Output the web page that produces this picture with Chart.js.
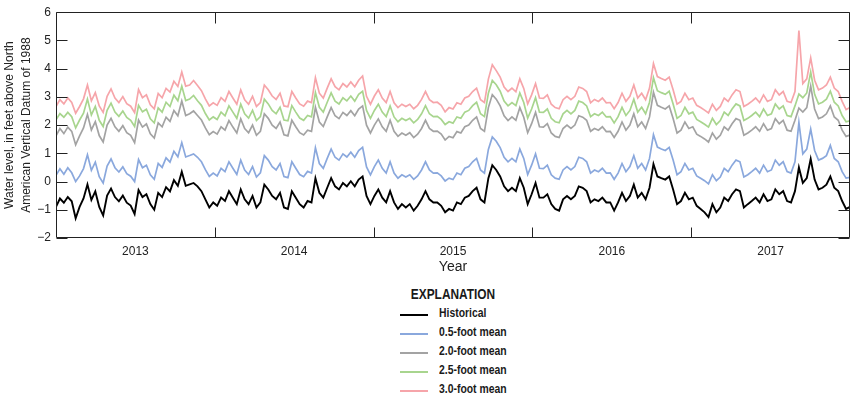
<!DOCTYPE html>
<html>
<head>
<meta charset="utf-8">
<script src="https://cdn.jsdelivr.net/npm/chart.js@4.4.1/dist/chart.umd.min.js"></script>
<style>
  html, body { margin: 0; padding: 0; background: #fff; }
  body { width: 851px; height: 397px; position: relative; overflow: hidden;
         font-family: 'Liberation Sans Narrow', 'Liberation Sans', Arial, sans-serif; }
  #wrap { position: absolute; left: 0; top: 0; width: 851px; height: 278px; }
  #legend { position: absolute; left: 0; top: 283px; width: 851px; color: #1a1a1a; }
  #legend .title { position: absolute; left: 383px; width: 140px; top: 3px; text-align: center;
                   font-weight: bold; font-size: 14.5px; transform: scaleX(0.82); transform-origin: 70px 0; }
  #legend .row { position: absolute; left: 400px; height: 14px; }
  #legend .row span.sw { position: absolute; left: 0; top: 7px; width: 28px; height: 0; border-top: 2px solid #000; }
  #legend .row span.tx { position: absolute; left: 39px; top: -2px; white-space: nowrap; font-weight: bold;
                         font-size: 13px; transform: scaleX(0.8); transform-origin: 0 0; }
</style>
</head>
<body>
<div id="wrap"><canvas id="c" width="851" height="278"></canvas></div>
<div id="legend"></div>
<script>
// ---- Data (water level, ft NAVD 88), roughly every 9 days, Jan 2013 - Dec 2017 ----
const yearLabels = ['2013', '2014', '2015', '2016', '2017'];
const seriesNames = ['Historical', '0.5-foot mean', '2.0-foot mean', '2.5-foot mean', '3.0-foot mean'];

const historical = [
-0.90,-0.60,-0.75,-0.55,-0.70,-1.30,-0.90,-0.60,-0.10,-0.65,-0.35,-0.90,-1.20,-0.50,-0.25,-0.55,-0.70,-0.50,-0.75,-0.85,
-1.15,-0.30,-0.55,-0.45,-0.80,-1.00,-0.40,-0.55,-0.20,-0.35,0.05,-0.15,0.35,-0.15,-0.10,-0.05,-0.17,-0.34,-0.63,-0.92,
-0.74,-0.86,-0.57,-0.69,-0.34,-0.57,-0.80,-0.28,-0.63,-0.80,-0.51,-0.92,-0.74,-0.11,-0.28,-0.51,-0.63,-0.40,-0.92,-0.97,
-0.34,-0.57,-0.80,-0.92,-0.69,-0.74,0.12,-0.40,-0.57,-0.22,0.12,-0.17,-0.28,-0.05,-0.17,0.01,-0.17,0.07,0.18,-0.51,
-0.80,-0.51,-0.28,-0.57,-0.74,-0.34,-0.74,-0.97,-0.80,-0.92,-0.80,-1.03,-0.86,-0.63,-0.34,-0.63,-0.74,-0.74,-0.86,-1.09,
-0.97,-1.03,-0.74,-0.80,-0.57,-0.51,-0.34,-0.22,-0.63,-0.74,0.12,0.58,0.41,0.18,-0.17,-0.34,-0.22,-0.34,0.12,-0.22,
-0.80,-0.45,-0.05,-0.57,-0.57,-0.45,-0.80,-0.97,-1.03,-0.63,-0.51,-0.63,-0.51,-0.17,-0.22,-0.34,-0.74,-0.63,-0.69,-0.57,
-0.74,-0.74,-1.03,-0.74,-0.40,-0.69,-0.51,-0.11,-0.57,-0.40,-0.63,-0.22,0.62,0.18,0.12,0.07,0.18,-0.28,-0.80,-0.69,
-0.40,-0.63,-0.57,-0.86,-0.97,-1.09,-1.26,-0.80,-1.09,-0.92,-0.57,-0.69,-0.45,-0.28,-0.34,-0.92,-0.80,-0.69,-0.57,-0.74,
-0.45,-0.69,-0.63,-0.28,-0.45,-0.34,-0.69,-0.74,-0.34,0.50,-0.05,0.12,0.80,0.07,-0.28,-0.22,-0.11,0.18,-0.22,-0.34,
-0.69,-0.97,-0.90
];

const mean05 = [
0.22,0.45,0.26,0.49,0.31,0.00,0.20,0.46,0.95,0.40,0.69,0.17,-0.05,0.55,0.80,0.49,0.34,0.52,0.28,0.19,
0.00,0.78,0.49,0.58,0.24,0.08,0.64,0.50,0.84,0.69,1.07,0.88,1.38,0.87,0.92,0.98,0.86,0.70,0.42,0.18,
0.30,0.20,0.47,0.35,0.70,0.47,0.25,0.76,0.41,0.25,0.53,0.16,0.31,0.92,0.76,0.53,0.41,0.64,0.18,0.14,
0.70,0.47,0.25,0.17,0.36,0.30,1.20,0.64,0.47,0.82,1.15,0.86,0.76,0.98,0.87,1.04,0.86,1.10,1.21,0.52,
0.24,0.53,0.76,0.47,0.30,0.70,0.30,0.12,0.24,0.16,0.24,0.08,0.20,0.41,0.70,0.41,0.30,0.31,0.20,0.02,
0.12,0.07,0.30,0.24,0.47,0.53,0.70,0.82,0.41,0.30,1.14,1.58,1.43,1.20,0.86,0.70,0.82,0.70,1.15,0.82,
0.25,0.58,0.98,0.47,0.46,0.58,0.24,0.12,0.08,0.41,0.53,0.41,0.53,0.86,0.82,0.70,0.30,0.41,0.35,0.47,
0.30,0.31,0.08,0.30,0.64,0.35,0.53,0.92,0.47,0.64,0.41,0.82,1.66,1.22,1.15,1.10,1.21,0.76,0.24,0.35,
0.64,0.41,0.47,0.20,0.12,0.03,-0.08,0.24,0.03,0.16,0.47,0.35,0.58,0.76,0.70,0.16,0.24,0.35,0.47,0.30,
0.58,0.35,0.41,0.76,0.58,0.70,0.35,0.30,0.70,2.10,0.98,1.15,1.86,1.10,0.76,0.82,0.92,1.28,0.82,0.70,
0.35,0.12,0.15
];

const mean20 = [
1.62,1.88,1.70,1.93,1.78,1.30,1.62,1.90,2.38,1.83,2.12,1.63,1.40,2.00,2.24,1.94,1.78,1.98,1.73,1.64,
1.38,2.18,1.93,2.04,1.69,1.54,2.08,1.94,2.28,2.13,2.52,2.33,2.85,2.34,2.40,2.50,2.34,2.18,1.90,1.66,
1.77,1.68,1.94,1.82,2.16,1.93,1.72,2.22,1.88,1.73,2.00,1.64,1.78,2.40,2.24,2.00,1.88,2.11,1.66,1.62,
2.17,1.94,1.73,1.65,1.82,1.78,2.63,2.11,1.95,2.29,2.62,2.33,2.23,2.45,2.34,2.51,2.33,2.57,2.68,2.00,
1.72,2.00,2.22,1.94,1.78,2.17,1.78,1.60,1.72,1.64,1.73,1.56,1.68,1.88,2.17,1.88,1.78,1.79,1.68,1.47,
1.60,1.55,1.77,1.72,1.94,2.00,2.17,2.29,1.88,1.78,2.62,3.08,2.92,2.68,2.33,2.16,2.29,2.17,2.62,2.28,
1.73,2.05,2.45,1.94,1.93,2.05,1.72,1.60,1.56,1.88,2.00,1.88,2.00,2.33,2.28,2.17,1.78,1.88,1.82,1.94,
1.77,1.78,1.56,1.78,2.11,1.82,2.00,2.40,1.94,2.11,1.88,2.29,3.16,2.70,2.63,2.57,2.68,2.23,1.72,1.82,
2.11,1.88,1.94,1.68,1.60,1.51,1.40,1.72,1.50,1.64,1.94,1.82,2.05,2.23,2.17,1.64,1.72,1.82,1.94,1.78,
2.05,1.82,1.88,2.23,2.05,2.17,1.82,1.78,2.17,2.60,2.46,2.62,3.38,2.57,2.23,2.29,2.40,2.68,2.29,2.17,
1.82,1.60,1.65
];

const mean25 = [
2.19,2.41,2.28,2.45,2.30,1.90,2.18,2.42,2.92,2.36,2.66,2.17,1.95,2.52,2.78,2.46,2.31,2.50,2.27,2.17,
1.95,2.70,2.47,2.56,2.22,2.08,2.61,2.46,2.81,2.66,3.06,2.86,3.38,2.87,2.92,3.05,2.86,2.70,2.41,2.18,
2.29,2.20,2.46,2.33,2.68,2.46,2.24,2.74,2.40,2.25,2.52,2.16,2.30,2.92,2.75,2.52,2.40,2.63,2.18,2.15,
2.69,2.46,2.25,2.17,2.34,2.29,3.15,2.63,2.46,2.81,3.14,2.85,2.75,2.97,2.86,3.03,2.85,3.09,3.20,2.52,
2.24,2.52,2.74,2.46,2.30,2.68,2.29,2.12,2.24,2.16,2.24,2.08,2.20,2.40,2.69,2.40,2.30,2.31,2.20,2.02,
2.12,2.07,2.29,2.24,2.46,2.52,2.69,2.81,2.40,2.30,3.13,3.58,3.43,3.20,2.85,2.68,2.80,2.69,3.14,2.80,
2.25,2.57,2.97,2.46,2.45,2.57,2.24,2.12,2.08,2.40,2.52,2.40,2.52,2.85,2.80,2.68,2.30,2.40,2.34,2.46,
2.29,2.30,2.08,2.30,2.63,2.34,2.52,2.92,2.46,2.63,2.40,2.81,3.68,3.22,3.15,3.09,3.20,2.75,2.24,2.34,
2.63,2.40,2.46,2.20,2.12,2.03,1.93,2.24,2.02,2.16,2.46,2.34,2.57,2.75,2.68,2.16,2.24,2.34,2.46,2.30,
2.57,2.34,2.40,2.75,2.57,2.68,2.34,2.30,2.68,3.10,2.97,3.14,3.88,3.09,2.75,2.81,2.92,3.20,2.81,2.68,
2.34,2.12,2.15
];

const mean30 = [
2.66,2.90,2.75,2.96,2.80,2.42,2.66,2.93,3.42,2.86,3.15,2.68,2.45,3.02,3.28,2.96,2.80,3.01,2.76,2.67,
2.44,3.26,2.97,3.07,2.72,2.58,3.12,2.97,3.30,3.17,3.55,3.37,3.88,3.38,3.42,3.58,3.40,3.22,2.93,2.68,
2.79,2.70,2.97,2.84,3.19,2.96,2.74,3.25,2.90,2.74,3.02,2.66,2.80,3.42,3.25,3.03,2.91,3.13,2.68,2.65,
3.19,2.96,2.75,2.67,2.85,2.80,3.68,3.13,2.96,3.31,3.64,3.36,3.25,3.47,3.35,3.53,3.36,3.59,3.74,3.02,
2.74,3.03,3.25,2.96,2.80,3.19,2.79,2.62,2.74,2.66,2.74,2.58,2.70,2.91,3.19,2.90,2.80,2.81,2.70,2.47,
2.62,2.57,2.79,2.74,2.96,3.02,3.19,3.31,2.90,2.80,3.63,4.14,3.93,3.70,3.35,3.19,3.31,3.18,3.64,3.30,
2.75,3.07,3.47,2.96,2.95,3.07,2.74,2.62,2.58,2.90,3.02,2.90,3.02,3.35,3.30,3.19,2.79,2.91,2.84,2.96,
2.79,2.80,2.58,2.80,3.13,2.84,3.02,3.42,2.96,3.13,2.90,3.31,4.18,3.72,3.65,3.59,3.70,3.25,2.74,2.84,
3.13,2.90,2.96,2.70,2.62,2.53,2.43,2.74,2.52,2.66,2.96,2.84,3.07,3.25,3.19,2.66,2.74,2.84,2.96,2.80,
3.07,2.84,2.90,3.25,3.07,3.19,2.84,2.80,3.19,5.35,3.47,3.64,4.38,3.59,3.25,3.31,3.42,3.70,3.31,3.19,
2.84,2.55,2.62
];

const seriesColors = ['#000000', '#8aa8dd', '#a3a3a3', '#a8d58e', '#f6a5aa'];
const seriesWidths = [1.9, 1.7, 1.7, 1.7, 1.7];
const allSeries = [historical, mean05, mean20, mean25, mean30];

// time axis: decimal years
const xStart = 2013, xEnd = 2018;
const toPoints = arr => arr.map((v, i) => ({ x: xStart + i * (xEnd - xStart) / (arr.length - 1), y: v }));

const FONT = "'Liberation Sans Narrow', 'Liberation Sans', Arial, sans-serif";
const INK = '#222';

const frameTicks = {
  id: 'frameTicks',
  afterDatasetsDraw(chart) {
    const { ctx, chartArea: a, scales: { x, y } } = chart;
    ctx.save();
    ctx.strokeStyle = INK;
    ctx.lineWidth = 1;
    const L = Math.round(a.left) + 0.5, R = Math.round(a.right) - 0.5;
    const T = Math.round(a.top) + 0.5, B = Math.round(a.bottom) - 0.5;
    ctx.beginPath();
    ctx.rect(L, T, R - L, B - T);
    for (let v = y.min; v <= y.max; v += 1) {
      const py = Math.round(y.getPixelForValue(v)) + 0.5;
      ctx.moveTo(L, py); ctx.lineTo(L + 11, py);
      ctx.moveTo(R, py); ctx.lineTo(R - 11, py);
    }
    for (let k = 1; k < yearLabels.length; k++) {
      const px = Math.round(x.getPixelForValue(xStart + k)) + 0.5;
      ctx.moveTo(px, T); ctx.lineTo(px, T + 11);
      ctx.moveTo(px, B); ctx.lineTo(px, B - 10);
    }
    ctx.stroke();
    ctx.restore();
  }
};

new Chart(document.getElementById('c'), {
  type: 'line',
  data: {
    datasets: allSeries.map((arr, k) => ({
      label: seriesNames[k],
      data: toPoints(arr),
      borderColor: seriesColors[k],
      backgroundColor: seriesColors[k],
      borderWidth: seriesWidths[k],
      pointRadius: 0,
      tension: 0,
      fill: false,
      order: k
    }))
  },
  options: {
    responsive: false,
    animation: false,
    devicePixelRatio: 1,
    layout: { padding: { top: 7, right: 1, left: 0, bottom: 0 } },
    plugins: { legend: { display: false }, tooltip: { enabled: false } },
    scales: {
      x: {
        type: 'linear',
        min: xStart, max: xEnd,
        afterBuildTicks(scale) {
          scale.ticks = yearLabels.map((lab, k) => ({ value: xStart + k + 0.5 }));
        },
        afterFit(scale) { scale.height = 40; },
        grid: { display: false, drawTicks: false },
        border: { display: false },
        ticks: {
          autoSkip: false, maxRotation: 0, padding: 6,
          color: INK, font: { family: FONT, size: 12 },
          callback: (v) => yearLabels[Math.floor(v - xStart)]
        },
        title: {
          display: true, text: 'Year', color: INK,
          font: { family: FONT, size: 14 }, padding: { top: 0, bottom: 2 }
        }
      },
      y: {
        min: -2, max: 6,
        afterFit(scale) { scale.width = 56; },
        grid: { display: false, drawTicks: false },
        border: { display: false },
        ticks: {
          stepSize: 1, padding: 5, color: INK,
          font: { family: FONT, size: 12 },
          callback: (v) => (v < 0 ? '\u2212' + Math.abs(v) : String(v))
        },
        title: {
          display: true,
          text: ['Water level, in feet above North', 'American Vertical Datum of 1988'],
          color: INK, font: { family: FONT, size: 12, lineHeight: 1.375 },
          padding: { top: 1.5, bottom: 0 }
        }
      }
    }
  },
  plugins: [frameTicks]
});

// Legend (explanation) below the chart
const legend = document.getElementById('legend');
const t = document.createElement('div');
t.className = 'title'; t.textContent = 'EXPLANATION';
legend.appendChild(t);
seriesNames.forEach((name, k) => {
  const row = document.createElement('div');
  row.className = 'row';
  row.style.top = (24 + k * 19) + 'px';
  row.innerHTML = '<span class="sw"></span><span class="tx"></span>';
  row.querySelector('.sw').style.borderTopColor = seriesColors[k];
  row.querySelector('.tx').textContent = name;
  legend.appendChild(row);
});
</script>
</body>
</html>
